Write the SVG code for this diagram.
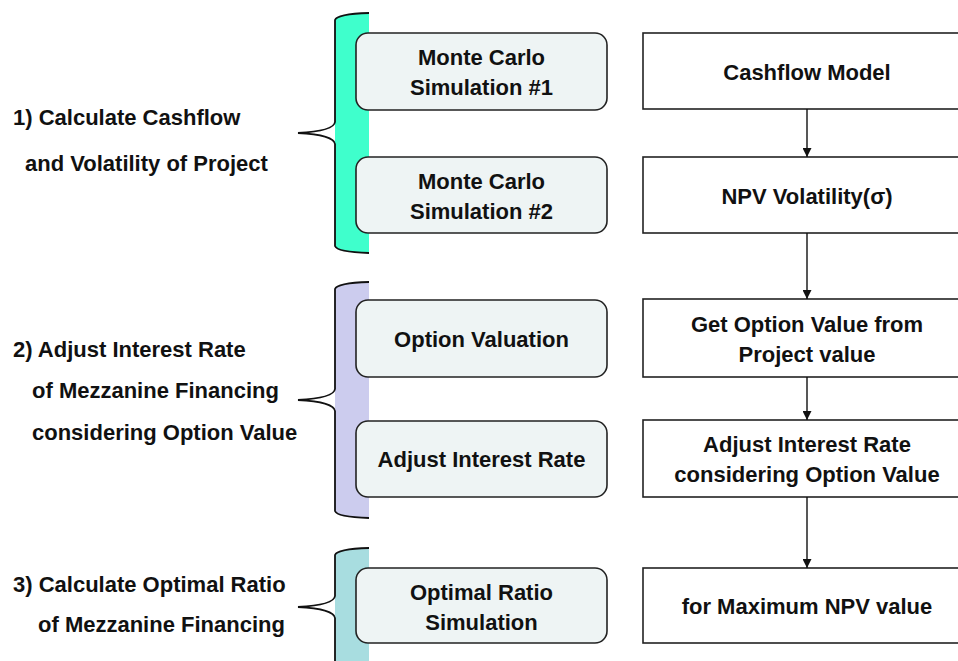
<svg xmlns="http://www.w3.org/2000/svg" width="958" height="661" viewBox="0 0 958 661">
<style>
  text { font-family: "Liberation Sans", Arial, sans-serif; font-weight: bold; font-size: 22px; fill: #111; }
  .c { text-anchor: middle; }
  .step { fill: #EEF4F4; stroke: #222; stroke-width: 1.6; }
  .box { fill: #FFFFFF; stroke: #222; stroke-width: 1.6; }
  .brace { fill: none; stroke: #111; stroke-width: 1.8; }
  .conn { stroke: #111; stroke-width: 1.4; fill: none; marker-end: url(#ah); }
</style>
<defs>
  <marker id="ah" viewBox="0 0 10 10" refX="10" refY="5" markerWidth="9" markerHeight="9" markerUnits="userSpaceOnUse" orient="auto">
    <path d="M0,0 L10,5 L0,10 Z" fill="#111"/>
  </marker>
</defs>
<rect width="958" height="661" fill="#FFFFFF"/>

<g id="group1">
  <path d="M369,13 Q337,14 335,20 L335,246 Q337,252 369,253 Z" fill="#3FFFCC"/>
  <path class="brace" d="M369,13 Q337,14 335,20 L335,122 Q334,131 298,133 Q334,135 335,144 L335,246 Q337,252 369,253"/>
  <text x="13" y="125">1) Calculate Cashflow</text>
  <text x="25" y="171">and Volatility of Project</text>
</g>

<g id="group2">
  <path d="M369,282 Q337,283 335,289 L335,511 Q337,517 369,518 Z" fill="#CCCCEE"/>
  <path class="brace" d="M369,282 Q337,283 335,289 L335,389 Q334,398 298,400 Q334,402 335,411 L335,511 Q337,517 369,518"/>
  <text x="13" y="357">2) Adjust Interest Rate</text>
  <text x="32" y="398">of Mezzanine Financing</text>
  <text x="32" y="440">considering Option Value</text>
</g>

<g id="group3">
  <path d="M369,548 Q337,549 335,555 L335,661 L369,661 Z" fill="#A8DDE0"/>
  <path class="brace" d="M369,548 Q337,549 335,555 L335,596 Q334,605 298,607 Q334,609 335,618 L335,661"/>
  <text x="13" y="592">3) Calculate Optimal Ratio</text>
  <text x="38" y="632">of Mezzanine Financing</text>
</g>

<g id="mc1">
  <rect class="step" x="356" y="33" width="251" height="77" rx="12"/>
  <text class="c" x="481.5" y="65">Monte Carlo</text>
  <text class="c" x="481.5" y="95">Simulation #1</text>
</g>
<g id="mc2">
  <rect class="step" x="356" y="157" width="251" height="76" rx="12"/>
  <text class="c" x="481.5" y="189">Monte Carlo</text>
  <text class="c" x="481.5" y="219">Simulation #2</text>
</g>
<g id="optval">
  <rect class="step" x="356" y="300" width="251" height="77" rx="12"/>
  <text class="c" x="481.5" y="347">Option Valuation</text>
</g>
<g id="adjrate">
  <rect class="step" x="356" y="421" width="251" height="76" rx="12"/>
  <text class="c" x="481.5" y="467">Adjust Interest Rate</text>
</g>
<g id="optratio">
  <rect class="step" x="356" y="568" width="251" height="75" rx="12"/>
  <text class="c" x="481.5" y="600">Optimal Ratio</text>
  <text class="c" x="481.5" y="630">Simulation</text>
</g>

<g id="cashflow">
  <rect class="box" x="643" y="33" width="330" height="76"/>
  <text class="c" x="807" y="80">Cashflow Model</text>
</g>
<g id="npv">
  <rect class="box" x="643" y="157" width="330" height="76"/>
  <text class="c" x="807" y="204">NPV Volatility(σ)</text>
</g>
<g id="getopt">
  <rect class="box" x="643" y="299" width="330" height="78"/>
  <text class="c" x="807" y="332">Get Option Value from</text>
  <text class="c" x="807" y="362">Project value</text>
</g>
<g id="adjust2">
  <rect class="box" x="643" y="420" width="330" height="77"/>
  <text class="c" x="807" y="452">Adjust Interest Rate</text>
  <text class="c" x="807" y="482">considering Option Value</text>
</g>
<g id="maxnpv">
  <rect class="box" x="643" y="568" width="330" height="75"/>
  <text class="c" x="807" y="614">for Maximum NPV value</text>
</g>

<g id="connectors">
  <line class="conn" x1="807" y1="109" x2="807" y2="157"/>
  <line class="conn" x1="807" y1="233" x2="807" y2="299"/>
  <line class="conn" x1="807" y1="377" x2="807" y2="420"/>
  <line class="conn" x1="807" y1="497" x2="807" y2="568"/>
</g>
</svg>
